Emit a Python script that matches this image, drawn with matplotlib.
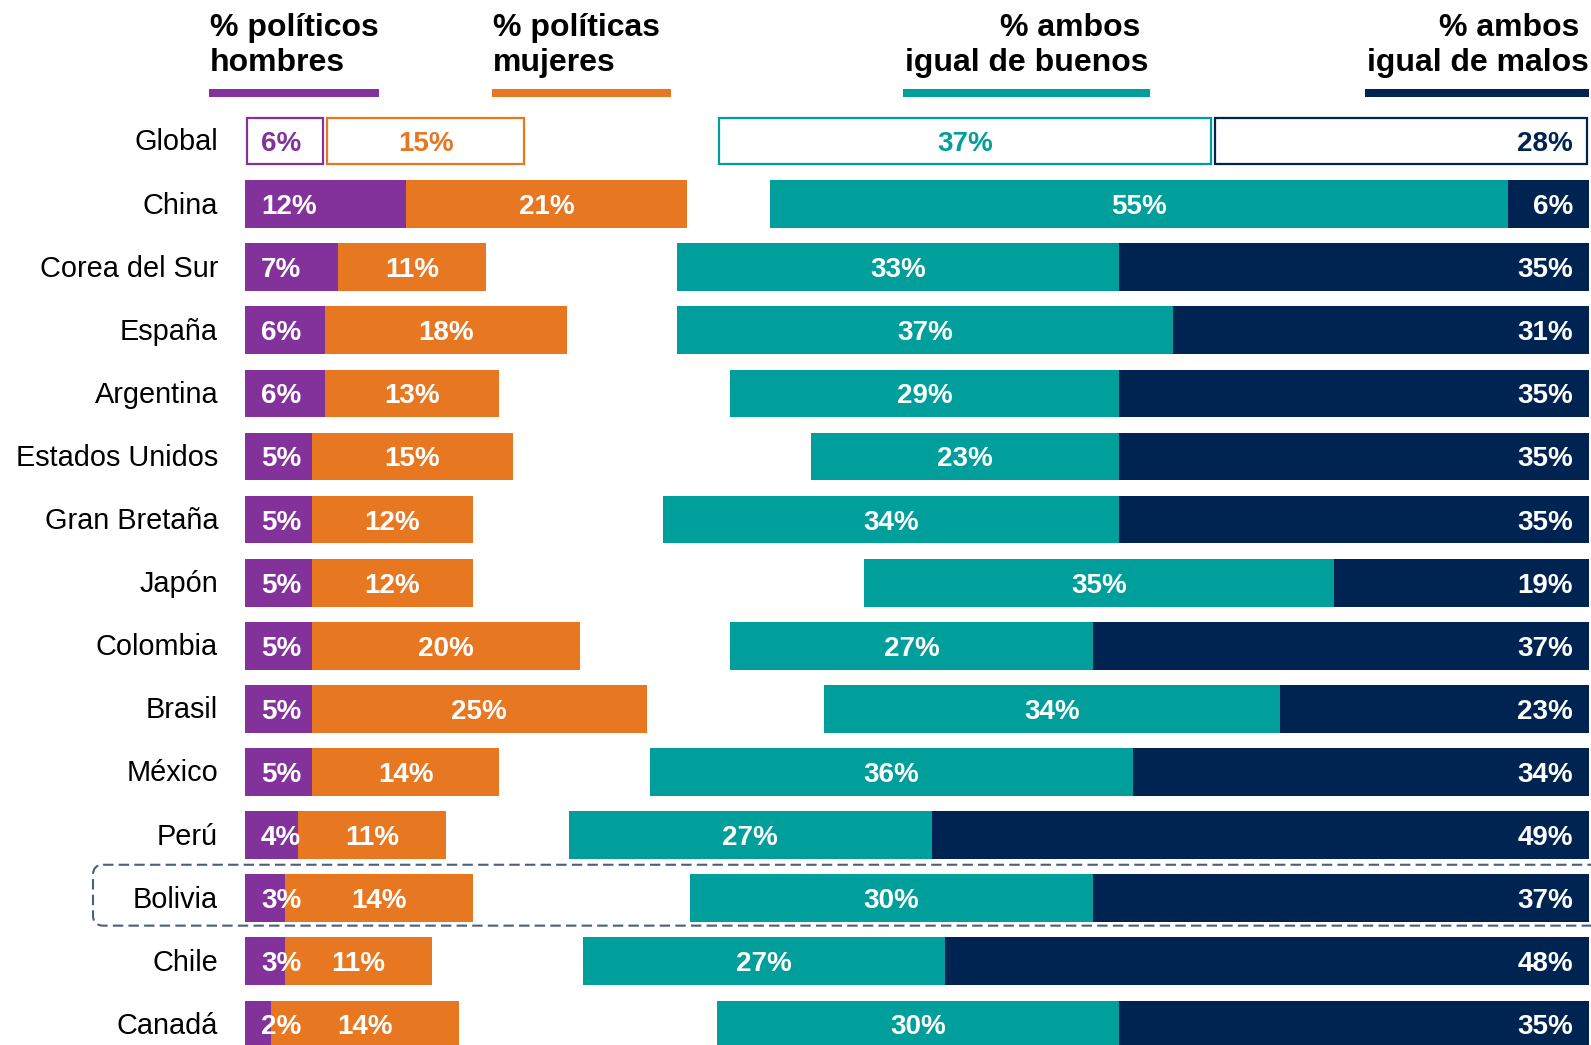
import matplotlib
matplotlib.use("Agg")
import matplotlib.pyplot as plt
from matplotlib.patches import FancyBboxPatch

plt.rcParams['font.family'] = ['Liberation Sans', 'DejaVu Sans']

countries = ["Global", "China", "Corea del Sur", "España", "Argentina", "Estados Unidos",
             "Gran Bretaña", "Japón", "Colombia", "Brasil", "México", "Perú", "Bolivia",
             "Chile", "Canadá"]
hombres = [6, 12, 7, 6, 6, 5, 5, 5, 5, 5, 5, 4, 3, 3, 2]
mujeres = [15, 21, 11, 18, 13, 15, 12, 12, 20, 25, 14, 11, 14, 11, 14]
buenos = [37, 55, 33, 37, 29, 23, 34, 35, 27, 34, 36, 27, 30, 27, 30]
malos = [28, 6, 35, 31, 35, 35, 35, 19, 37, 23, 34, 49, 37, 48, 35]

headers = [("% políticos", "hombres"), ("% políticas", "mujeres"),
           ("% ambos", "igual de buenos"), ("% ambos", "igual de malos")]
highlight = "Bolivia"

C_PURPLE = "#82329A"
C_ORANGE = "#E87722"
C_TEAL = "#009F9C"
C_NAVY = "#002452"
C_BOX = "#4A5F80"

W, H = 1591, 1045
fig = plt.figure(figsize=(W / 100, H / 100), dpi=100)
x0_px, x1_px = 244.5, 1589
ax = fig.add_axes([x0_px / W, 0, (x1_px - x0_px) / W, 1])
R = 100.2
ax.set_xlim(0, R)
row_px, top_px = 63.1, 141.0
ax.set_ylim((H - top_px) / row_px, -top_px / row_px)
ax.axis("off")
px_per_unit = (x1_px - x0_px) / R

bh = 0.756
lab_fs = 20
n = len(countries)
for i in range(n):
    h, m, b, ml = hombres[i], mujeres[i], buenos[i], malos[i]
    b_left = R - ml - b
    m_left = R - ml
    if countries[i] == "Global":
        ins = 0.15
        for left, w, c in [(0, h, C_PURPLE), (h, m, C_ORANGE), (b_left, b, C_TEAL), (m_left, ml, C_NAVY)]:
            ax.barh(i, w - 2 * ins, left=left + ins, height=bh - 0.03, color="white",
                    edgecolor=c, linewidth=1.6)
        tc = [C_PURPLE, C_ORANGE, C_TEAL, C_NAVY]
    else:
        ax.barh(i, h, left=0, height=bh, color=C_PURPLE, edgecolor="none")
        ax.barh(i, m, left=h, height=bh, color=C_ORANGE, edgecolor="none")
        ax.barh(i, b, left=b_left, height=bh, color=C_TEAL, edgecolor="none")
        ax.barh(i, ml, left=m_left, height=bh, color=C_NAVY, edgecolor="none")
        tc = ["white"] * 4
    yb = i + 0.157
    ax.text(1.23, yb, f"{h}%", ha="left", va="baseline", color=tc[0], fontsize=lab_fs, fontweight="bold")
    ax.text(h + m / 2, yb, f"{m}%", ha="center", va="baseline", color=tc[1], fontsize=lab_fs, fontweight="bold")
    ax.text(b_left + b / 2, yb, f"{b}%", ha="center", va="baseline", color=tc[2], fontsize=lab_fs, fontweight="bold")
    ax.text(R - 1.19, yb, f"{ml}%", ha="right", va="baseline", color=tc[3], fontsize=lab_fs, fontweight="bold")
    ax.text(-1.97, i + 0.15, countries[i], ha="right", va="baseline", color="black", fontsize=20.8)

# highlight box
hi = countries.index(highlight)
xr = px_per_unit / row_px
bx0 = -11.29
box = FancyBboxPatch((bx0, hi - 0.53), R - bx0 + 3, 0.965,
                     boxstyle="round,pad=0,rounding_size=0.75", mutation_aspect=xr,
                     fill=False, edgecolor=C_BOX, linewidth=1.5, linestyle=(0, (5, 2.5)),
                     clip_on=False)
ax.add_patch(box)

# headers
hdr_specs = [(-2.57, "left", 0.0, C_PURPLE, (-2.65, 10.06)),
             (18.52, "left", 0.0, C_ORANGE, (18.44, 31.78)),
             (67.4, "right", -0.6, C_TEAL, (49.07, 67.47)),
             (R, "right", -0.75, C_NAVY, (83.5, R))]
for (l1, l2), (hx, ha, off1, col, (ux0, ux1)) in zip(headers, hdr_specs):
    ax.text(hx + off1, -1.664, l1, ha=ha, va="baseline", fontsize=23, fontweight="bold", color="black", clip_on=False)
    ax.text(hx, -1.109, l2, ha=ha, va="baseline", fontsize=23, fontweight="bold", color="black", clip_on=False)
    ax.barh(-0.754, ux1 - ux0, left=ux0, height=0.125, color=col, edgecolor="none", clip_on=False)

fig.savefig("out.png", dpi=100)
